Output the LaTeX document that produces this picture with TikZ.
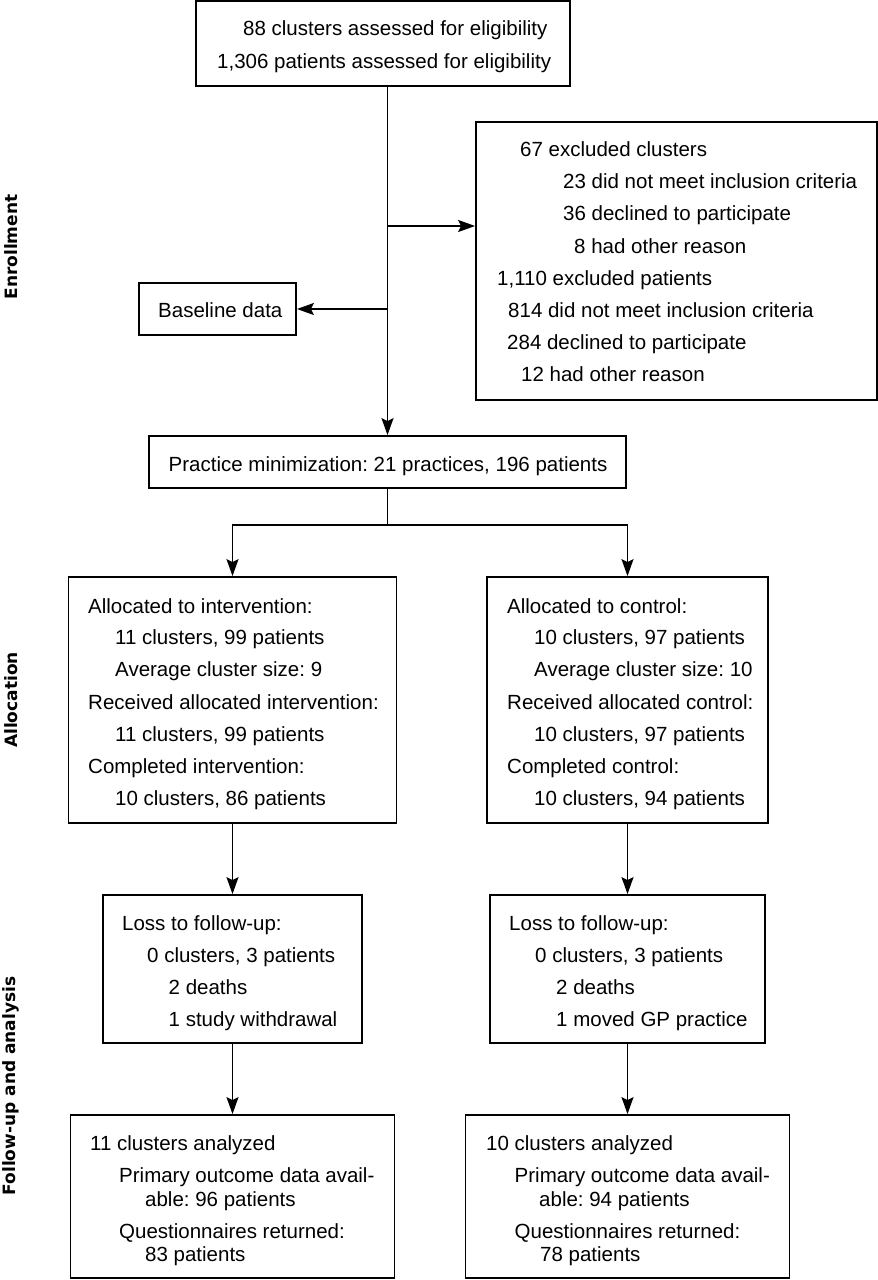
\documentclass[tikz,border=0pt]{standalone}
\usepackage{fontspec}
\setmainfont{Liberation Sans}
\newfontfamily\sidefont{DejaVu Sans}
\usetikzlibrary{arrows.meta}
\frenchspacing
\begin{document}
\begin{tikzpicture}[x=1pt,y=-1pt,
  box/.style={draw, line width=1.8pt, inner sep=0pt},
  txt/.style={anchor=base west, inner sep=0pt, font=\fontsize{20.5}{24}\selectfont},
  side/.style={rotate=90, inner sep=0pt, font=\sidefont\bfseries\fontsize{17}{20}\selectfont},
  arr/.style={line width=1.8pt, -{Stealth[length=17pt,width=12pt,inset=3pt]}},
  ln/.style={line width=1.8pt}]
\useasboundingbox (0,0) rectangle (878,1280);
\fill[white] (0,0) rectangle (878,1280);

% side labels
\node[side] (sEnr) at (11,247) {Enrollment};
\node[side] (sAll) at (11,700) {Allocation};
\node[side] (sFol) at (11,1086) {Follow-up and analysis};

% boxes
\node[box, minimum width=374pt, minimum height=85pt] (top) at (383,43.5) {};
\node[box, minimum width=401pt, minimum height=278pt] (excl) at (676.5,261) {};
\node[box, minimum width=157pt, minimum height=52pt] (base) at (217.5,309) {};
\node[box, minimum width=477pt, minimum height=52pt] (prac) at (387.5,462) {};
\node[box, minimum width=328pt, minimum height=246pt] (allocL) at (232.5,700) {};
\node[box, minimum width=281pt, minimum height=246pt] (allocR) at (627.5,700) {};
\node[box, minimum width=259pt, minimum height=148pt] (lossL) at (232.5,969) {};
\node[box, minimum width=275pt, minimum height=148pt] (lossR) at (627.5,969) {};
\node[box, minimum width=324pt, minimum height=163pt] (anaL) at (232.5,1196.5) {};
\node[box, minimum width=324pt, minimum height=163pt] (anaR) at (627.5,1196.5) {};

% texts: top
\node[txt] (t1) at (243,35) {88 clusters assessed for eligibility};
\node[txt] (t2) at (217,68) {1,306 patients assessed for eligibility};
% excluded
\node[txt] (e1) at (520,156) {67 excluded clusters};
\node[txt] (e2) at (563,188) {23 did not meet inclusion criteria};
\node[txt] (e3) at (563,220) {36 declined to participate};
\node[txt] (e4) at (574,253) {8 had other reason};
\node[txt] (e5) at (497,285) {1,110 excluded patients};
\node[txt] (e6) at (508,317) {814 did not meet inclusion criteria};
\node[txt] (e7) at (507,349) {284 declined to participate};
\node[txt] (e8) at (521,381) {12 had other reason};
% baseline
\node[txt] (b1) at (158,317) {Baseline data};
% practice
\node[txt] (p1) at (168.5,471) {Practice minimization: 21 practices, 196 patients};
% allocation left
\node[txt] (aL1) at (88,613) {Allocated to intervention:};
\node[txt] (aL2) at (115,644) {11 clusters, 99 patients};
\node[txt] (aL3) at (115,676) {Average cluster size: 9};
\node[txt] (aL4) at (88,709) {Received allocated intervention:};
\node[txt] (aL5) at (115,741) {11 clusters, 99 patients};
\node[txt] (aL6) at (88,773) {Completed intervention:};
\node[txt] (aL7) at (115,805) {10 clusters, 86 patients};
% allocation right
\node[txt] (aR1) at (507,613) {Allocated to control:};
\node[txt] (aR2) at (534,644) {10 clusters, 97 patients};
\node[txt] (aR3) at (534,676) {Average cluster size: 10};
\node[txt] (aR4) at (507,709) {Received allocated control:};
\node[txt] (aR5) at (534,741) {10 clusters, 97 patients};
\node[txt] (aR6) at (507,773) {Completed control:};
\node[txt] (aR7) at (534,805) {10 clusters, 94 patients};
% loss left
\node[txt] (lL1) at (122,930) {Loss to follow-up:};
\node[txt] (lL2) at (147,962) {0 clusters, 3 patients};
\node[txt] (lL3) at (168.5,994) {2 deaths};
\node[txt] (lL4) at (168.5,1026) {1 study withdrawal};
% loss right
\node[txt] (lR1) at (509,930) {Loss to follow-up:};
\node[txt] (lR2) at (535,962) {0 clusters, 3 patients};
\node[txt] (lR3) at (556,994) {2 deaths};
\node[txt] (lR4) at (556,1026) {1 moved GP practice};
% analysis left
\node[txt] (nL1) at (90,1150) {11 clusters analyzed};
\node[txt] (nL2) at (119,1182) {Primary outcome data avail-};
\node[txt] (nL3) at (145,1206) {able: 96 patients};
\node[txt] (nL4) at (119,1238) {Questionnaires returned:};
\node[txt] (nL5) at (145,1261) {83 patients};
% analysis right
\node[txt] (nR1) at (486,1150) {10 clusters analyzed};
\node[txt] (nR2) at (514.5,1182) {Primary outcome data avail-};
\node[txt] (nR3) at (539,1206) {able: 94 patients};
\node[txt] (nR4) at (514.5,1238) {Questionnaires returned:};
\node[txt] (nR5) at (540,1261) {78 patients};

% connectors
\coordinate (j1) at (387.5,226);
\coordinate (j2) at (387.5,309);
\coordinate (split) at (387.5,525);
\draw[arr] (prac.north |- top.south) -- (prac.north);
\draw[arr] (j1) -- (j1 -| excl.west);
\draw[arr] (j2) -- (j2 -| base.east);
\draw[ln] (prac.south) -- (split);
\draw[arr] (split) -| (allocL.north);
\draw[arr] (split) -| (allocR.north);
\draw[arr] (allocL.south) -- (lossL.north);
\draw[arr] (allocR.south) -- (lossR.north);
\draw[arr] (lossL.south) -- (anaL.north);
\draw[arr] (lossR.south) -- (anaR.north);
\end{tikzpicture}
\end{document}
